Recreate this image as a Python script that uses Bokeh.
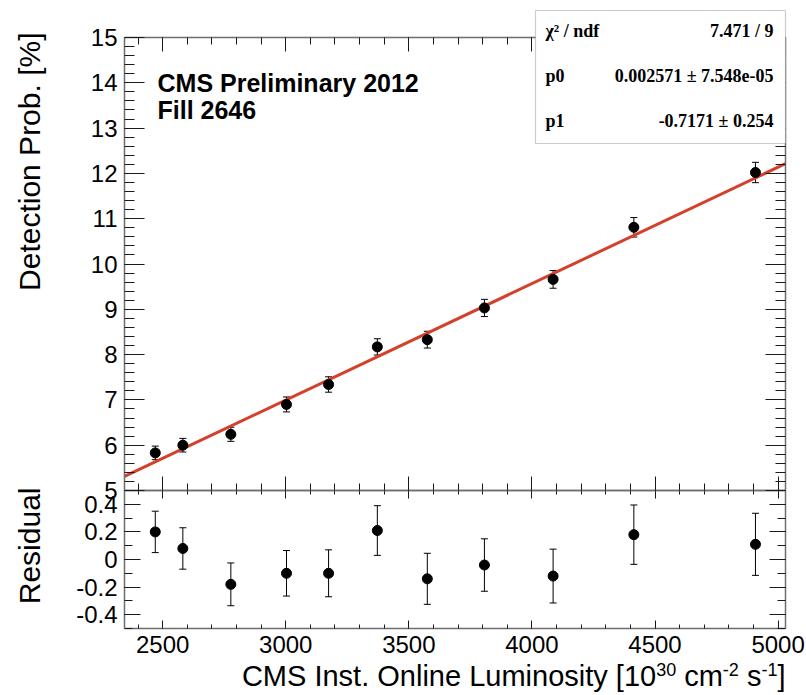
import math
from bokeh.plotting import figure
from bokeh.models import (Range1d, FixedTicker, LinearAxis, Label, BoxAnnotation,
                          ColumnDataSource, Whisker, TeeHead)
from bokeh.embed import file_html
from bokeh.resources import INLINE

# ---------------- data ----------------
lumi = [2470, 2582, 2777, 3003, 3174, 3372, 3575, 3807, 4086, 4414, 4908]
prob = [5.83, 6.00, 6.24, 6.90, 7.34, 8.17, 8.33, 9.03, 9.66, 10.81, 12.02]
prob_err = [0.15, 0.15, 0.155, 0.165, 0.17, 0.18, 0.185, 0.19, 0.195, 0.215, 0.225]
residual = [0.20, 0.08, -0.18, -0.10, -0.10, 0.21, -0.14, -0.04, -0.12, 0.18, 0.11]

fit_p0, fit_p0_err = 0.002571, "7.548e-05"
fit_p1, fit_p1_err = -0.7171, "0.254"
chi2_text, ndf_text = "7.471", "9"

x_lo, x_hi = 2345, 5030
y_lo, y_hi = 5, 15
r_lo, r_hi = -0.5, 0.5
x_major = [2500, 3000, 3500, 4000, 4500, 5000]
x_minor = list(range(2400, 5001, 100))
y_major = list(range(5, 16))
y_minor = [round(5 + 0.2 * i, 1) for i in range(51)]
r_major = [-0.4, -0.2, 0, 0.2, 0.4]
r_labels = ["-0.4", "-0.2", "0", "0.2", "0.4"]
r_minor = [round(-0.5 + 0.1 * i, 1) for i in range(11)]

# x-axis title pieces: (text, superscript?)
x_title = [("CMS Inst. Online Luminosity [10", False), ("30", True), (" cm", False),
           ("-2", True), (" s", False), ("-1", True), ("]", False)]

# ---------------- page geometry (pixels) ----------------
W, H = 806, 694
OX, OY = 0, 0
PX_L, PX_R = 124, 785      # panel left / right
PY_T, PY_M, PY_B = 37, 490, 628   # y=15, panel split, residual bottom

SANS = "Liberation Sans"
SERIF = "Liberation Serif"
FRAME = "#6e6e6e"
TICK = "#1a1a1a"


def sx(px):
    return px - OX


def sy(py):
    return (OY + H) - py


kx = (PX_R - PX_L) / (x_hi - x_lo)
ky = (PY_M - PY_T) / (y_hi - y_lo)
kr = (PY_B - PY_M) / (r_hi - r_lo)
x_range = Range1d(x_lo - (PX_L - OX) / kx, x_hi + (OX + W - PX_R) / kx)
y_range = Range1d(y_lo - (OY + H - PY_M) / ky, y_hi + (PY_T - OY) / ky)
r_range = Range1d(r_lo - (OY + H - PY_B) / kr, r_hi + (PY_M - OY) / kr)

p = figure(width=W, height=H, x_range=x_range, y_range=y_range,
           x_axis_location=None, y_axis_location=None,
           output_backend="svg", toolbar_location=None, min_border=0)
p.extra_y_ranges = {"res": r_range}
p.grid.visible = False
p.outline_line_color = None
p.background_fill_color = "white"
p.border_fill_color = "white"


def tick_axis(side, loc, bounds, ticks, length, rname, line):
    ax = LinearAxis(ticker=FixedTicker(ticks=[], minor_ticks=ticks),
                    fixed_location=loc, bounds=bounds, y_range_name=rname)
    ax.major_tick_in = 0
    ax.major_tick_out = 0
    ax.minor_tick_in = length
    ax.minor_tick_out = 0
    ax.minor_tick_line_color = TICK
    ax.minor_tick_line_width = 1
    ax.axis_line_color = FRAME if line else None
    ax.axis_line_width = 1.5
    p.add_layout(ax, side)


def label_axis(side, loc, bounds, majors, minors, major_len, minor_len, rname,
               overrides=None):
    ax = LinearAxis(ticker=FixedTicker(ticks=majors, minor_ticks=minors),
                    fixed_location=loc, bounds=bounds, y_range_name=rname)
    ax.major_tick_in = major_len
    ax.major_tick_out = 0
    ax.minor_tick_in = minor_len
    ax.minor_tick_out = 0
    ax.major_tick_line_color = TICK
    ax.minor_tick_line_color = TICK
    ax.axis_line_color = FRAME
    ax.axis_line_width = 1.5
    ax.major_label_text_font = SANS
    ax.major_label_text_font_size = "24px"
    ax.major_label_text_color = "black"
    ax.major_label_standoff = 7
    if overrides:
        ax.major_label_overrides = overrides
    p.add_layout(ax, side)


# top panel frame
label_axis("left", x_lo, (y_lo, y_hi), y_major, y_minor, 20, 10, "default")
tick_axis("right", x_hi, (y_lo, y_hi), y_major, 20, "default", True)
tick_axis("right", x_hi, (y_lo, y_hi), y_minor, 10, "default", False)
tick_axis("above", y_hi, (x_lo, x_hi), x_major, 14, "default", True)
tick_axis("above", y_hi, (x_lo, x_hi), x_minor, 7, "default", False)
tick_axis("below", y_lo, (x_lo, x_hi), x_major, 14, "default", True)
tick_axis("below", y_lo, (x_lo, x_hi), x_minor, 7, "default", False)

# residual panel frame
label_axis("left", x_lo, (r_lo, r_hi), r_major, r_minor, 16, 8, "res",
           dict(zip(r_major, r_labels)))
tick_axis("right", x_hi, (r_lo, r_hi), r_major, 16, "res", True)
tick_axis("right", x_hi, (r_lo, r_hi), r_minor, 8, "res", False)
tick_axis("above", r_hi, (x_lo, x_hi), x_major, 8, "res", True)
tick_axis("above", r_hi, (x_lo, x_hi), x_minor, 4, "res", False)
label_axis("below", r_lo, (x_lo, x_hi), x_major, x_minor, 8, 4, "res")

# ---------------- data marks ----------------
src = ColumnDataSource(dict(
    x=lumi, y=prob,
    lo=[v - e for v, e in zip(prob, prob_err)],
    hi=[v + e for v, e in zip(prob, prob_err)],
    r=residual,
    rlo=[v - e for v, e in zip(residual, prob_err)],
    rhi=[v + e for v, e in zip(residual, prob_err)],
))

fit_x = [x_lo, x_hi]
fit_y = [fit_p0 * xv + fit_p1 for xv in fit_x]
p.line(fit_x, fit_y, line_color="#d4402c", line_width=3)

p.add_layout(Whisker(source=src, base="x", lower="lo", upper="hi",
                     line_color="black", line_width=1,
                     lower_head=TeeHead(size=7, line_color="black", line_width=1),
                     upper_head=TeeHead(size=7, line_color="black", line_width=1)))
p.scatter("x", "y", source=src, size=10, color="black")

p.add_layout(Whisker(source=src, base="x", lower="rlo", upper="rhi",
                     y_range_name="res", line_color="black", line_width=1,
                     lower_head=TeeHead(size=7, line_color="black", line_width=1),
                     upper_head=TeeHead(size=7, line_color="black", line_width=1)))
p.scatter("x", "r", source=src, size=10, color="black", y_range_name="res")

BASE_FIX = 0.4   # Bokeh places "alphabetic" text a bit low; compensate (in em)


def text(t, px, py, fs=24, **kw):
    opts = dict(text_font=SANS, text_font_size=f"{fs}px", text_color="black",
                text_baseline="alphabetic")
    opts.update(kw)
    if opts["text_baseline"] == "alphabetic":
        py = py - BASE_FIX * fs
    p.add_layout(Label(x=sx(px), y=sy(py), x_units="screen", y_units="screen",
                       text=t, **opts))


text("CMS Preliminary 2012", 157, 92, fs=25, text_font_style="bold")
text("Fill 2646", 157, 119, fs=25, text_font_style="bold")

# stats box
p.add_layout(BoxAnnotation(left=sx(535), right=sx(785), top=sy(10), bottom=sy(143),
                           left_units="screen", right_units="screen",
                           bottom_units="screen", top_units="screen",
                           fill_color="white", fill_alpha=1.0,
                           line_color="#555555", line_width=1.2, level="annotation"))
rows = [("χ² / ndf", f"{chi2_text} / {ndf_text}", 38),
        ("p0", f"{fit_p0} ± {fit_p0_err}", 83),
        ("p1", f"{fit_p1} ± {fit_p1_err}", 128)]
for name, val, py in rows:
    text(name, 545, py, fs=18, text_font=SERIF, text_font_style="bold")
    text(val, 773, py, fs=18, text_font=SERIF, text_font_style="bold",
         text_align="right")

# axis titles
text("Detection Prob. [%]", 29, 32, fs=30, angle=math.pi / 2,
     text_align="right", text_baseline="middle")
text("Residual", 29, 487, fs=30, angle=math.pi / 2,
     text_align="right", text_baseline="middle")

# x title, assembled right-to-left with Arial-compatible advance widths
ADV = {" ": 278, "c": 500, "m": 833, "s": 500, "]": 278, "-": 333}
MAIN_FS, SUP_FS, SUP_RISE = 29, 18, 11
cur = PX_R
for piece, sup in reversed(x_title):
    fs = SUP_FS if sup else MAIN_FS
    text(piece.strip(), cur, 687 - (SUP_RISE if sup else 0), fs=fs,
         text_align="right")
    cur -= sum(ADV.get(ch, 556) for ch in piece) * fs / 1000.0

open("out.html", "w").write(file_html(p, INLINE))
